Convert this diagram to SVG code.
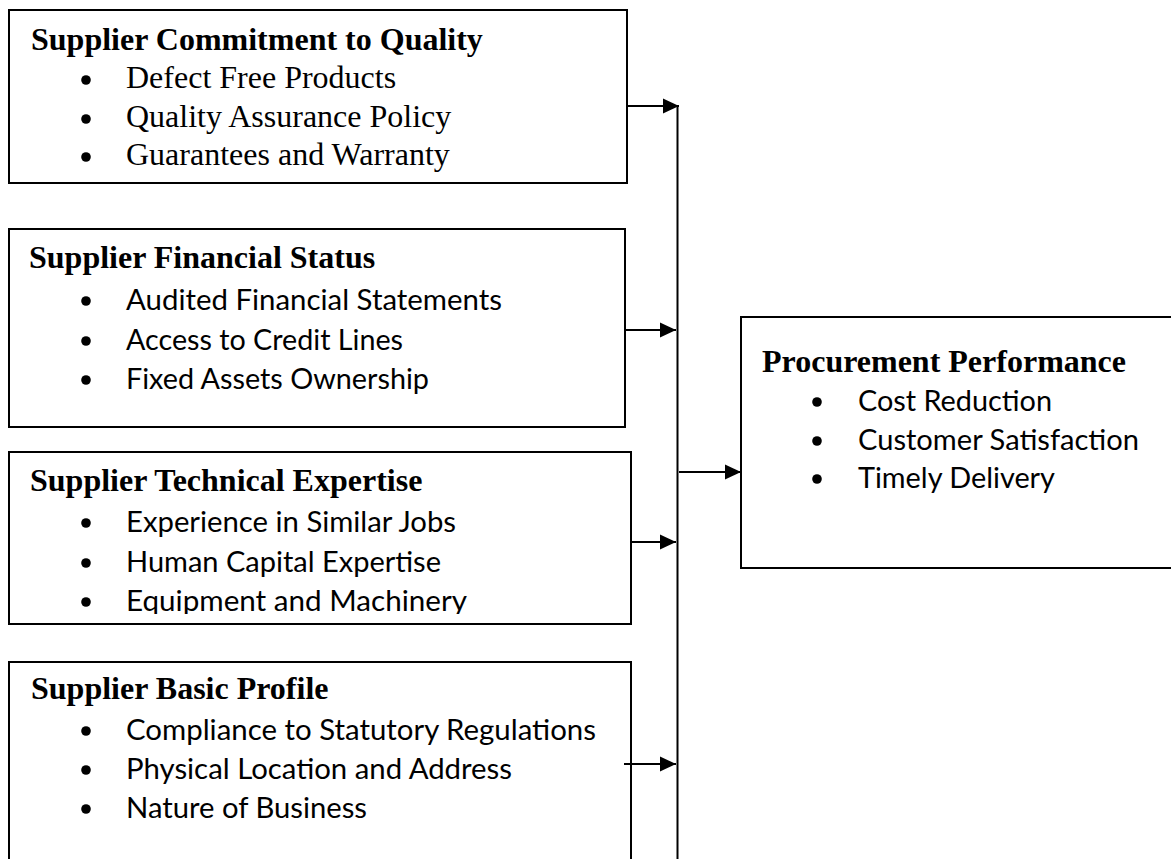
<svg xmlns="http://www.w3.org/2000/svg" width="1171" height="859" viewBox="0 0 1171 859">
  <style>
    .box { fill: #ffffff; stroke: #000000; stroke-width: 2; }
    .title { font-family: "Liberation Serif", "Times New Roman", serif; font-weight: bold; font-size: 32px; fill: #000000; }
    .serif { font-family: "Liberation Serif", "Times New Roman", serif; font-size: 32px; fill: #000000; }
    .sans { font-family: "Lato", "Open Sans", sans-serif; font-size: 28.5px; fill: #000000; }
    .bullet { fill: #000000; }
    .conn { fill: none; stroke: #000000; stroke-width: 2; }
  </style>
  <defs>
    <marker id="ah" markerUnits="userSpaceOnUse" markerWidth="16" markerHeight="16" refX="16" refY="8" orient="auto">
      <path d="M0,0.5 L16,8 L0,15.5 z" fill="#000000"/>
    </marker>
    <clipPath id="clip3">
      <rect x="9" y="452" width="622" height="162"/>
    </clipPath>
  </defs>
  <rect x="0" y="0" width="1171" height="859" fill="#ffffff"/>

  <g id="node-quality">
    <rect class="box" x="9" y="10" width="618" height="173"/>
    <text class="title" x="31" y="50">Supplier Commitment to Quality</text>
    <circle class="bullet" cx="86" cy="80" r="4.8"/>
    <text class="serif" x="126" y="88">Defect Free Products</text>
    <circle class="bullet" cx="86" cy="119" r="4.8"/>
    <text class="serif" x="126" y="127">Quality Assurance Policy</text>
    <circle class="bullet" cx="86" cy="157" r="4.8"/>
    <text class="serif" x="126" y="165">Guarantees and Warranty</text>
  </g>

  <g id="node-financial">
    <rect class="box" x="9" y="229" width="616" height="198"/>
    <text class="title" x="29" y="268">Supplier Financial Status</text>
    <circle class="bullet" cx="86" cy="301" r="4.8"/>
    <text class="sans" x="126" y="310" textLength="376" lengthAdjust="spacingAndGlyphs">Audited Financial Statements</text>
    <circle class="bullet" cx="86" cy="341" r="4.8"/>
    <text class="sans" x="126" y="350" textLength="277" lengthAdjust="spacingAndGlyphs">Access to Credit Lines</text>
    <circle class="bullet" cx="86" cy="380" r="4.8"/>
    <text class="sans" x="126" y="389" textLength="303" lengthAdjust="spacingAndGlyphs">Fixed Assets Ownership</text>
  </g>

  <g id="node-technical">
    <rect class="box" x="9" y="452" width="622" height="172"/>
    <text class="title" x="30" y="491">Supplier Technical Expertise</text>
    <circle class="bullet" cx="86" cy="523" r="4.8"/>
    <text class="sans" x="126" y="532" textLength="330" lengthAdjust="spacingAndGlyphs">Experience in Similar Jobs</text>
    <circle class="bullet" cx="86" cy="563" r="4.8"/>
    <text class="sans" x="126" y="572" textLength="315" lengthAdjust="spacingAndGlyphs">Human Capital Expertise</text>
    <g clip-path="url(#clip3)">
      <circle class="bullet" cx="86" cy="602" r="4.8"/>
      <text class="sans" x="126" y="611" textLength="341" lengthAdjust="spacingAndGlyphs">Equipment and Machinery</text>
    </g>
  </g>

  <g id="node-basic">
    <rect class="box" x="9" y="662" width="622" height="210"/>
    <text class="title" x="31" y="699">Supplier Basic Profile</text>
    <circle class="bullet" cx="86" cy="731" r="4.8"/>
    <text class="sans" x="126" y="740" textLength="470" lengthAdjust="spacingAndGlyphs">Compliance to Statutory Regulations</text>
    <circle class="bullet" cx="86" cy="770" r="4.8"/>
    <text class="sans" x="126" y="779" textLength="386" lengthAdjust="spacingAndGlyphs">Physical Location and Address</text>
    <circle class="bullet" cx="86" cy="809" r="4.8"/>
    <text class="sans" x="126" y="818" textLength="241" lengthAdjust="spacingAndGlyphs">Nature of Business</text>
  </g>

  <g id="node-performance">
    <rect class="box" x="741" y="317" width="440" height="251"/>
    <text class="title" x="762" y="372">Procurement Performance</text>
    <circle class="bullet" cx="817" cy="402" r="4.8"/>
    <text class="sans" x="858" y="411" textLength="194" lengthAdjust="spacingAndGlyphs">Cost Reduction</text>
    <circle class="bullet" cx="817" cy="441" r="4.8"/>
    <text class="sans" x="858" y="450" textLength="281" lengthAdjust="spacingAndGlyphs">Customer Satisfaction</text>
    <circle class="bullet" cx="817" cy="479" r="4.8"/>
    <text class="sans" x="858" y="488" textLength="197" lengthAdjust="spacingAndGlyphs">Timely Delivery</text>
  </g>

  <g id="connectors">
    <line class="conn" x1="677.5" y1="105" x2="677.5" y2="860"/>
    <line class="conn" x1="627" y1="106" x2="679" y2="106" marker-end="url(#ah)"/>
    <line class="conn" x1="625" y1="330" x2="676" y2="330" marker-end="url(#ah)"/>
    <line class="conn" x1="631" y1="542" x2="676" y2="542" marker-end="url(#ah)"/>
    <line class="conn" x1="624" y1="764" x2="676" y2="764" marker-end="url(#ah)"/>
    <line class="conn" x1="679" y1="472" x2="741" y2="472" marker-end="url(#ah)"/>
  </g>
</svg>
